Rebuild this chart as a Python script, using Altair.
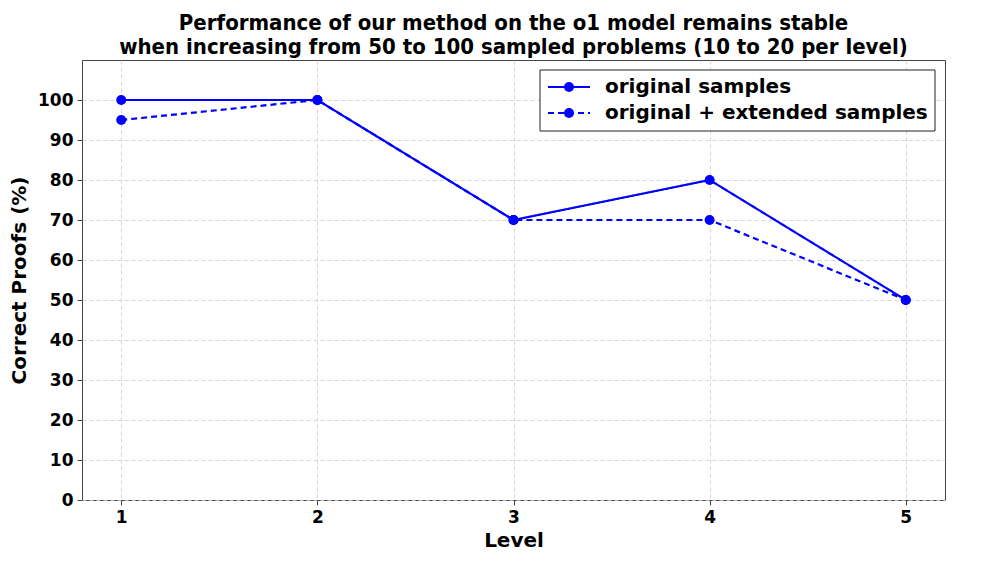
import altair as alt
import pandas as pd

levels = [1, 2, 3, 4, 5]
original = [100, 100, 70, 80, 50]
extended = [95, 100, 70, 70, 50]
series_names = ["original samples", "original + extended samples"]
title_lines = ["Performance of our method on the o1 model remains stable",
               "when increasing from 50 to 100 sampled problems (10 to 20 per level)"]

rows = []
for lv, a, b in zip(levels, original, extended):
    rows.append({"level": lv, "value": a, "series": series_names[0]})
    rows.append({"level": lv, "value": b, "series": series_names[1]})
df = pd.DataFrame(rows)

W, H = 863, 440
BLUE = "#0000ff"
FONT = "DejaVu Sans"

x = alt.X("level:Q", scale=alt.Scale(domain=[0.8, 5.2], nice=False),
          axis=alt.Axis(values=levels, title="Level", format="d"))
y = alt.Y("value:Q", scale=alt.Scale(domain=[0, 110], nice=False),
          axis=alt.Axis(values=list(range(0, 101, 10)), title="Correct Proofs (%)"))
dash = alt.StrokeDash("series:N", scale=alt.Scale(domain=series_names, range=[[1, 0], [6, 4]]), legend=None)

lines = alt.Chart(df).mark_line(color=BLUE, strokeWidth=2.2).encode(x=x, y=y, strokeDash=dash, detail="series:N")
points = alt.Chart(df).mark_point(filled=True, color=BLUE, size=100, opacity=1).encode(x=x, y=y)

# manual legend
leg_df = pd.DataFrame({"label": series_names, "idx": [0, 1]})
box = alt.Chart(pd.DataFrame({"a": [0]})).mark_rect(fill="white", stroke="#222222", strokeWidth=1).encode(
    x=alt.value(458), x2=alt.value(853), y=alt.value(10), y2=alt.value(71))
leg_lines = alt.Chart(leg_df).transform_calculate(
    yy="27 + datum.idx * 26").mark_rule(color=BLUE, strokeWidth=2.2).encode(
    x=alt.value(466), x2=alt.value(508), y=alt.Y("yy:Q", scale=None),
    strokeDash=alt.StrokeDash("label:N", scale=alt.Scale(domain=series_names, range=[[1, 0], [6, 4]]), legend=None))
leg_pts = alt.Chart(leg_df).transform_calculate(
    yy="27 + datum.idx * 26").mark_point(filled=True, color=BLUE, size=100, opacity=1).encode(
    x=alt.value(487), y=alt.Y("yy:Q", scale=None))
leg_text = alt.Chart(leg_df).transform_calculate(
    yy="27 + datum.idx * 26").mark_text(align="left", baseline="middle", font=FONT, fontSize=20,
                                        fontWeight="bold", color="black").encode(
    x=alt.value(523), y=alt.Y("yy:Q", scale=None), text="label:N")

chart = alt.layer(lines, points, box, leg_lines, leg_pts, leg_text).properties(
    width=W, height=H,
    title=alt.TitleParams(title_lines, font="DejaVu Sans Condensed", fontSize=22, fontWeight="bold",
                          color="black", anchor="middle", offset=1, lineHeight=24),
    autosize=alt.AutoSizeParams(type="none"),
    padding={"left": 74, "top": 52, "right": 10, "bottom": 60},
).configure_view(stroke="#444444", strokeWidth=1).configure_axis(
    labelFont=FONT, labelFontSize=17, labelFontWeight="bold", labelColor="black",
    titleFont=FONT, titleFontSize=20, titleFontWeight="bold", titleColor="black",
    grid=True, gridColor="#cccccc", gridDash=[4, 3], gridWidth=0.8,
    domain=False, tickColor="#444444", tickSize=5, labelPadding=4,
).configure_axisX(titlePadding=5).configure_axisY(titlePadding=8)

chart.save("out.html", embed_options={"renderer": "svg", "actions": False})
